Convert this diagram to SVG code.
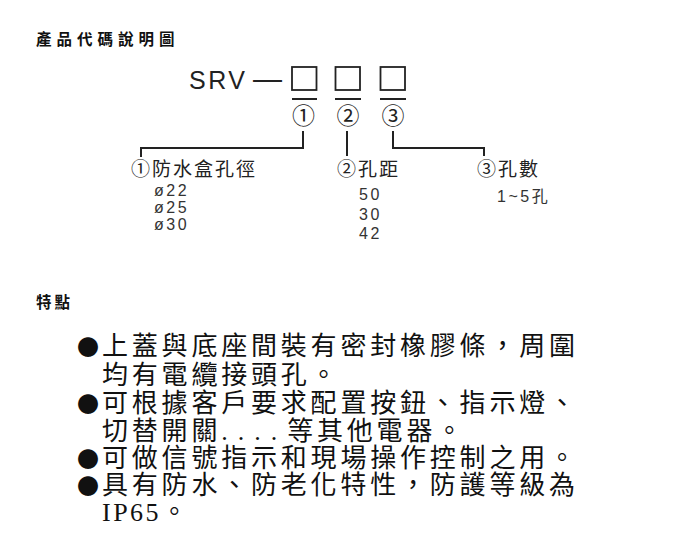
<svg xmlns="http://www.w3.org/2000/svg" width="694" height="553" viewBox="0 0 694 553">
<style>
.h{font-family:"Noto Sans CJK TC","Noto Sans CJK SC",sans-serif;font-size:15.5px;font-weight:bold;fill:#111;}
.code{font-family:"Liberation Sans",Arial,sans-serif;font-size:25px;fill:#222;letter-spacing:2.5px;}
.circ{font-family:"Noto Sans CJK TC","Noto Sans CJK SC",sans-serif;font-size:23px;fill:#222;text-anchor:middle;}
.lbl{font-family:"Liberation Sans","Noto Sans CJK TC",sans-serif;font-size:19px;fill:#222;letter-spacing:2px;}
.num{font-family:"Liberation Sans","Noto Sans CJK TC",sans-serif;font-size:16px;fill:#333;letter-spacing:2.5px;}
.body{font-family:"Noto Sans CJK TC","Noto Sans CJK SC",sans-serif;font-size:26px;fill:#111;letter-spacing:3.8px;}
.bul{font-size:22px;letter-spacing:0;}
.lat{font-family:"Liberation Serif","Times New Roman",serif;}
.box{fill:none;stroke:#222;stroke-width:1.8;}
.ln{fill:none;stroke:#222;stroke-width:2;}
</style>
<rect width="694" height="553" fill="#fff"/>
<g id="title"><text class="h" x="36" y="45" letter-spacing="5">產品代碼說明圖</text></g>
<g id="code">
<text class="code" x="189" y="89">SRV<tspan x="253" font-size="29">—</tspan></text>
<rect class="box" x="292" y="67" width="24.5" height="23"/>
<rect class="box" x="335.5" y="67" width="24.5" height="23"/>
<rect class="box" x="380.5" y="67" width="24.5" height="23"/>
<line class="ln" x1="292" y1="99" x2="317" y2="99"/>
<line class="ln" x1="335" y1="99" x2="361" y2="99"/>
<line class="ln" x1="380" y1="99" x2="406" y2="99"/>
<text class="circ" x="303.5" y="124">①</text>
<text class="circ" x="348" y="124">②</text>
<text class="circ" x="393" y="124">③</text>
</g>
<g id="connectors">
<polyline class="ln" points="303,131 303,148 141,148 141,157"/>
<polyline class="ln" points="347,131 347,156"/>
<polyline class="ln" points="393,131 393,148 484,148 484,156"/>
</g>
<g id="node1">
<text class="lbl" x="131" y="176">①防水盒孔徑</text>
<text class="num" x="154" y="196">ø22</text>
<text class="num" x="154" y="213">ø25</text>
<text class="num" x="154" y="230">ø30</text>
</g>
<g id="node2">
<text class="lbl" x="337" y="176">②孔距</text>
<text class="num" x="359" y="200">50</text>
<text class="num" x="359" y="219.5">30</text>
<text class="num" x="359" y="239">42</text>
</g>
<g id="node3">
<text class="lbl" x="477" y="176">③孔數</text>
<text class="num" x="497" y="202" letter-spacing="0.5">1~5孔</text>
</g>
<g id="features-title"><text class="h" x="36" y="308" letter-spacing="3">特點</text></g>
<g id="features">
<text class="body" x="77" y="355"><tspan class="bul">●</tspan><tspan x="102">上蓋與底座間裝有密封橡膠條，周圍</tspan></text>
<text class="body" x="102" y="384">均有電纜接頭孔。</text>
<text class="body" x="77" y="412"><tspan class="bul">●</tspan><tspan x="102">可根據客戶要求配置按鈕、指示燈、</tspan></text>
<text class="body" x="102" y="440">切替開關<tspan class="lat" letter-spacing="10">....</tspan>等其他電器。</text>
<text class="body" x="77" y="467"><tspan class="bul">●</tspan><tspan x="102">可做信號指示和現場操作控制之用。</tspan></text>
<text class="body" x="77" y="494"><tspan class="bul">●</tspan><tspan x="102">具有防水、防老化特性，防護等級為</tspan></text>
<text class="body" x="102" y="521"><tspan class="lat" letter-spacing="2.5">IP65</tspan>。</text>
</g>
</svg>
